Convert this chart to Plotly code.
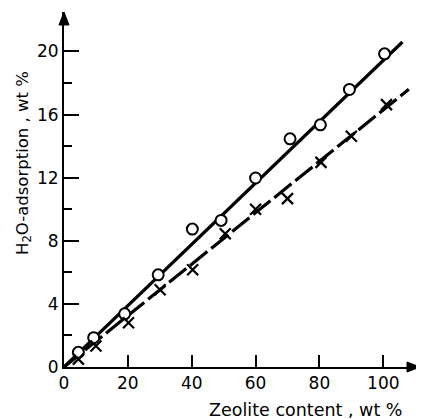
import plotly.graph_objects as go

# Data
circle_x = [4.5, 9.3, 19, 29.5, 40.2, 49.2, 60, 70.8, 80.3, 89.4, 100.4]
circle_y = [0.93, 1.86, 3.37, 5.84, 8.74, 9.29, 11.98, 14.46, 15.35, 17.59, 19.85]
cross_x = [4.5, 10, 20.2, 30.1, 40.3, 50.5, 60, 70, 80.5, 90, 101]
cross_y = [0.5, 1.33, 2.8, 4.9, 6.16, 8.44, 10.0, 10.67, 12.97, 14.62, 16.63]
fit_solid_x = [0, 106]
fit_solid_y = [0, 20.6]
fit_dash_x = [0, 108]
fit_dash_y = [0, 17.6]
x_ticks = [0, 20, 40, 60, 80, 100]
y_ticks = [0, 4, 8, 12, 16, 20]
y_minor = [2, 6, 10, 14, 18]

FONT = "DejaVu Sans"

# page body has an 8px margin; size the figure so it fits the 424x419 window
W, H = 416, 411
ML, MR, MT, MB = 56, 4, 4, 52
PW, PH = W - ML - MR, H - MT - MB

fig = go.Figure()
fig.add_trace(go.Scatter(x=fit_solid_x, y=fit_solid_y, mode="lines",
                         line=dict(color="black", width=3.2), hoverinfo="skip"))
fig.add_trace(go.Scatter(x=fit_dash_x, y=fit_dash_y, mode="lines",
                         line=dict(color="black", width=3.2, dash="22px,5px"), hoverinfo="skip"))
fig.add_trace(go.Scatter(x=circle_x, y=circle_y, mode="markers",
                         marker=dict(symbol="circle", size=11, color="white",
                                     line=dict(color="black", width=2))))
fig.add_trace(go.Scatter(x=cross_x, y=cross_y, mode="markers",
                         marker=dict(symbol="x-thin", size=11, color="black",
                                     line=dict(color="black", width=2.2))))

fig.update_layout(
    width=W, height=H,
    margin=dict(l=ML, r=MR, t=MT, b=MB),
    paper_bgcolor="white", plot_bgcolor="white",
    showlegend=False,
    font=dict(family=FONT, color="black", size=16),
    xaxis=dict(range=[0, 111.5], tickvals=x_ticks, ticks="inside", ticklen=12,
               tickwidth=1.5, tickcolor="black", showline=True, linecolor="black",
               linewidth=2, showgrid=False, zeroline=False,
               tickfont=dict(size=17, family=FONT)),
    yaxis=dict(range=[0, 22.5], tickvals=y_ticks, ticks="inside", ticklen=15,
               tickwidth=1.5, tickcolor="black", showline=True, linecolor="black",
               linewidth=2, showgrid=False, zeroline=False,
               tickfont=dict(size=17, family=FONT),
               minor=dict(tickvals=y_minor, ticks="inside", ticklen=8,
                          tickwidth=1.5, tickcolor="black")),
)

# axis arrowheads as filled triangles (paper coords)
ax_len, ax_half = 13, 5
xa = (f"M 1 0 L {1 - ax_len / PW} {ax_half / PH} "
      f"L {1 - ax_len / PW} {-ax_half / PH} Z")
ya = (f"M 0 1 L {ax_half / PW} {1 - ax_len / PH} "
      f"L {-ax_half / PW} {1 - ax_len / PH} Z")
for p in (xa, ya):
    fig.add_shape(type="path", path=p, xref="paper", yref="paper",
                  fillcolor="black", line=dict(color="black", width=1), layer="above")

# axis titles
fig.add_annotation(x=(404 - 8 - ML) / PW, y=0, xref="paper", yref="paper", xanchor="right",
                   yanchor="middle", yshift=-43, showarrow=False,
                   text="Zeolite content , wt %", font=dict(size=17.5, family=FONT))
fig.add_annotation(x=0, y=(367 - 8 - 155) / PH, xref="paper", yref="paper", xanchor="center",
                   yanchor="middle", xshift=-41, showarrow=False, textangle=-90,
                   text="H<sub>2</sub>O-adsorption , wt %", font=dict(size=16.5, family=FONT))

fig.write_html("out.html")
